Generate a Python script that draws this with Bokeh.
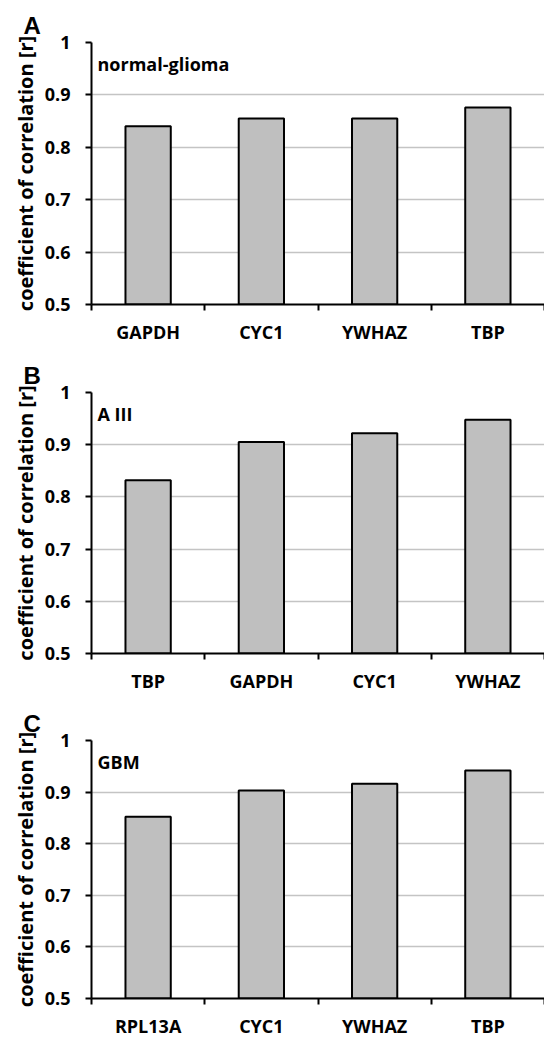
from bokeh.plotting import figure
from bokeh.layouts import column
from bokeh.models import Range1d, FixedTicker, Label
from bokeh.embed import file_html
from bokeh.resources import INLINE

# ---- data ----
letters = ["A", "B", "C"]
groups = ["normal-glioma", "A III", "GBM"]

genes_a = ["GAPDH", "CYC1", "YWHAZ", "TBP"]
r_a = [0.840, 0.855, 0.855, 0.876]

genes_b = ["TBP", "GAPDH", "CYC1", "YWHAZ"]
r_b = [0.832, 0.905, 0.922, 0.948]

genes_c = ["RPL13A", "CYC1", "YWHAZ", "TBP"]
r_c = [0.852, 0.903, 0.916, 0.942]

y_ticks = [0.5, 0.6, 0.7, 0.8, 0.9, 1.0]
y_tick_labels = ["0.5", "0.6", "0.7", "0.8", "0.9", "1"]
y_title = "coefficient of correlation [r]"

FONT = "Open Sans"


def make_panel(letter, group, genes, values, frame_h, top, bottom):
    n = len(genes)
    p = figure(frame_width=453, frame_height=frame_h,
               min_border_left=91, min_border_right=0,
               min_border_top=top, min_border_bottom=bottom,
               x_range=Range1d(0, n), y_range=Range1d(y_ticks[0], y_ticks[-1]),
               output_backend="svg", toolbar_location=None)
    p.outline_line_color = None
    p.background_fill_color = "white"
    p.border_fill_color = "white"

    centers = [i + 0.5 for i in range(n)]
    p.vbar(x=centers, top=values, bottom=0, width=0.4,
           fill_color="#bfbfbf", line_color="black", line_width=2)

    # y axis
    ya = p.yaxis[0]
    ya.ticker = FixedTicker(ticks=y_ticks)
    ya.major_label_overrides = {t: l for t, l in zip(y_ticks, y_tick_labels)}
    ya.axis_line_color = "black"
    ya.axis_line_width = 2
    ya.major_tick_line_color = "black"
    ya.major_tick_line_width = 2
    ya.major_tick_out = 6
    ya.major_tick_in = 0
    ya.minor_tick_line_color = None
    ya.major_label_standoff = 15
    ya.major_label_text_font = FONT
    ya.major_label_text_font_style = "bold"
    ya.major_label_text_font_size = "18px"
    ya.major_label_text_color = "black"
    ya.axis_label = y_title
    ya.axis_label_text_font = FONT
    ya.axis_label_text_font_style = "bold"
    ya.axis_label_text_font_size = "20px"
    ya.axis_label_text_color = "black"
    ya.axis_label_standoff = 3

    # x axis: labels at centres, tick marks at category boundaries
    xa = p.xaxis[0]
    xa.ticker = FixedTicker(ticks=centers, minor_ticks=list(range(n + 1)))
    xa.major_label_overrides = {c: g for c, g in zip(centers, genes)}
    xa.axis_line_color = "black"
    xa.axis_line_width = 2
    xa.major_tick_line_color = None
    xa.major_tick_out = 0
    xa.major_tick_in = 0
    xa.minor_tick_line_color = "black"
    xa.minor_tick_line_width = 2
    xa.minor_tick_out = 6
    xa.minor_tick_in = 0
    xa.major_label_standoff = 9
    xa.major_label_text_font = FONT
    xa.major_label_text_font_style = "bold"
    xa.major_label_text_font_size = "18px"
    xa.major_label_text_color = "black"

    p.xgrid.visible = False
    p.ygrid.grid_line_color = "#c4c4c4"
    p.ygrid.grid_line_width = 1.5

    p.add_layout(Label(x=0, y=y_ticks[-1], x_offset=6, y_offset=-9,
                       text=group, text_baseline="top",
                       text_font=FONT, text_font_style="bold",
                       text_font_size="18px", text_color="black"))

    # panel letter as the figure title, pulled left over the axis area
    p.title.text = letter
    p.title.align = "left"
    p.title.offset = -68
    p.title.standoff = 8
    p.title.text_font = "Liberation Sans"
    p.title.text_font_style = "bold"
    p.title.text_font_size = "24px"
    p.title.text_color = "black"
    return p


pa = make_panel(letters[0], groups[0], genes_a, r_a, 262, 42, 42)
pb = make_panel(letters[1], groups[1], genes_b, r_b, 261, 46, 42)
pc = make_panel(letters[2], groups[2], genes_c, r_c, 258, 45, 40)

layout = column(pa, pb, pc, spacing=0)

open("out.html", "w").write(file_html(layout, INLINE))
